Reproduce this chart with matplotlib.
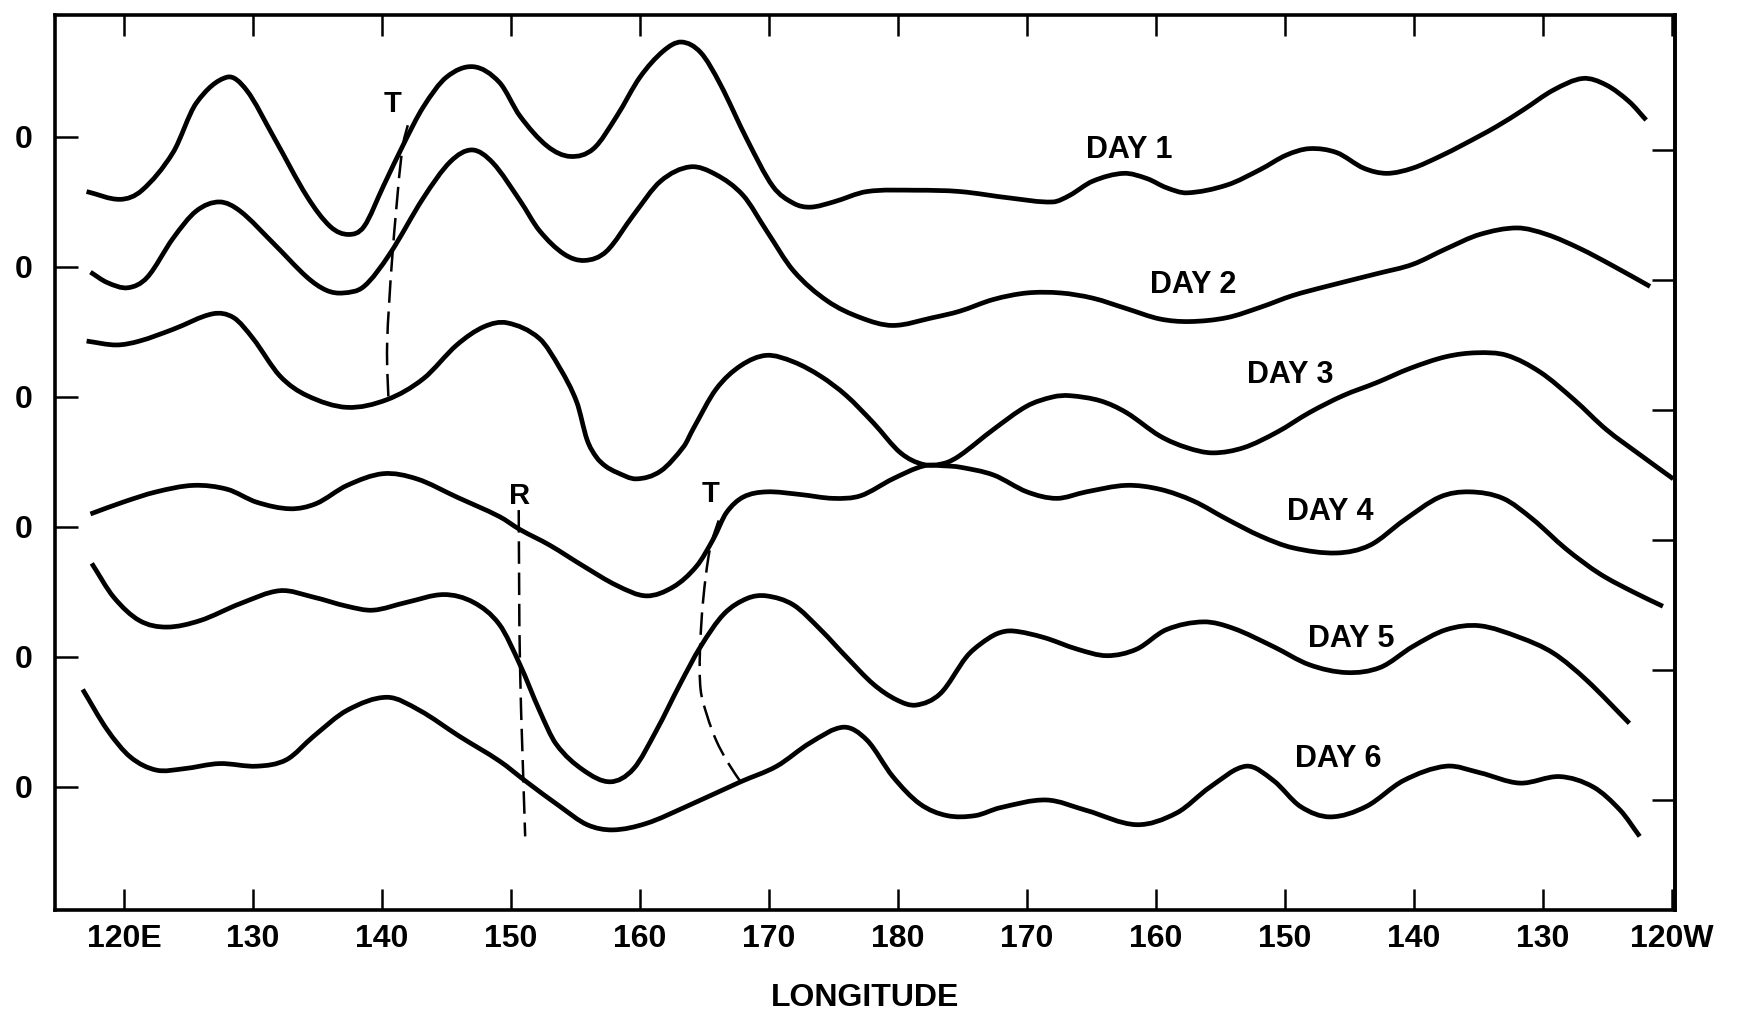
import numpy as np
import matplotlib
matplotlib.use("Agg")
import matplotlib.pyplot as plt
from matplotlib.path import Path
from matplotlib.patches import PathPatch

plt.rcParams['font.family'] = ['Liberation Sans', 'DejaVu Sans']
plt.rcParams['font.weight'] = 'bold'
plt.rcParams['axes.labelweight'] = 'bold'

# Longitude runs continuously: 120E = 120, 180 = 180, 120W = 240.
# Each day's trace is the departure from its own zero line.
day1_lon = [117.1, 119.7, 121.4, 123.8, 125.6, 128.0, 129.5, 131.6, 134.2, 136.0,
            137.4, 138.6, 140.1, 141.7, 143.2, 145.0, 147.1, 149.1, 150.7, 152.8,
            154.6, 156.4, 158.2, 160.0, 161.8, 163.2, 164.7, 166.2, 168.3, 170.3,
            171.9, 173.2, 175.0, 177.6, 181.4, 184.8, 188.7, 192.0, 193.3, 195.1,
            197.5, 199.3, 200.8, 202.4, 205.5, 208.1, 210.1, 211.9, 214.0, 216.1,
            217.9, 219.9, 222.0, 223.8, 226.4, 228.5, 230.8, 233.1, 234.9, 236.7,
            238.0]
day1_dev = [-42, -48, -41, -12, 26, 46, 36, 0, -46, -69,
            -75, -69, -38, -5, 23, 46, 54, 42, 16, -7,
            -15, -9, 16, 46, 66, 73, 65, 41, -2, -38,
            -51, -54, -50, -42, -41, -42, -47, -50, -45, -34,
            -28, -32, -39, -43, -37, -25, -14, -9, -12, -24,
            -28, -24, -15, -6, 8, 21, 36, 45, 40, 27,
            13]

day2_lon = [117.4, 118.7, 120.3, 121.8, 123.8, 125.6, 127.4, 129.0, 131.6, 134.2,
            135.7, 137.0, 138.6, 140.6, 143.2, 145.3, 147.0, 148.6, 150.7, 152.2,
            154.1, 155.7, 157.4, 159.5, 161.6, 163.9, 165.9, 168.0, 169.8, 171.9,
            174.5, 177.1, 179.6, 182.7, 184.8, 187.4, 190.0, 192.6, 195.1, 197.7,
            200.3, 202.6, 205.5, 208.1, 210.6, 213.2, 217.2, 219.9, 222.5, 225.1,
            228.0, 230.3, 232.9, 235.4, 238.3]
day2_dev = [-4, -12, -16, -8, 22, 43, 50, 43, 18, -8,
            -18, -20, -15, 10, 53, 81, 90, 80, 51, 28,
            10, 5, 12, 40, 66, 77, 71, 55, 28, -3,
            -26, -39, -45, -39, -34, -25, -20, -20, -24, -32,
            -40, -42, -39, -31, -22, -15, -5, 2, 14, 25,
            30, 25, 14, 1, -15]

day3_lon = [117.1, 119.4, 121.2, 123.8, 126.9, 128.5, 130.0, 132.1, 134.2, 137.3,
            140.4, 143.2, 145.8, 147.9, 149.7, 152.2, 153.8, 155.1, 155.9, 156.6,
            157.3, 158.2, 159.7, 161.6, 163.4, 164.1, 165.9, 167.8, 169.8, 171.9,
            174.0, 176.0, 178.1, 180.2, 182.0, 183.6, 184.8, 187.4, 190.0, 192.0,
            193.3, 195.7, 197.7, 200.3, 202.4, 204.4, 206.8, 209.4, 211.9, 214.5,
            217.1, 219.7, 222.5, 224.9, 227.2, 229.8, 232.4, 234.9, 237.6, 240.1]
day3_dev = [43, 40, 43, 52, 64, 61, 45, 16, 1, -8,
            -2, 14, 40, 54, 57, 45, 22, -4, -33, -46,
            -53, -58, -63, -57, -38, -25, 6, 24, 32, 27,
            16, 1, -20, -43, -52, -51, -45, -25, -7, 0,
            1, -3, -12, -30, -39, -43, -39, -27, -12, 1,
            11, 22, 31, 34, 32, 19, -2, -25, -45, -63]

day4_lon = [117.4, 119.9, 122.5, 125.4, 128.0, 130.3, 132.9, 134.9, 137.3, 140.1,
            142.7, 145.8, 149.1, 150.7, 153.0, 155.6, 158.2, 160.5, 162.6, 164.4,
            165.7, 166.7, 168.0, 169.8, 172.4, 175.0, 177.1, 179.6, 182.0, 183.6,
            184.8, 187.4, 190.0, 192.3, 194.6, 197.7, 200.3, 202.9, 205.5, 208.1,
            210.6, 214.0, 216.6, 219.2, 222.0, 224.3, 226.9, 229.2, 231.8, 234.4,
            237.0, 239.3]
day4_dev = [10, 19, 27, 32, 29, 19, 14, 18, 32, 41,
            37, 23, 8, -2, -14, -30, -45, -53, -46, -30,
            -9, 11, 23, 27, 25, 22, 24, 37, 47, 47,
            46, 40, 27, 22, 27, 32, 29, 20, 6, -7,
            -16, -20, -14, 5, 23, 27, 22, 6, -17, -36,
            -50, -61]

day5_lon = [117.5, 119.2, 121.2, 123.3, 125.9, 129.0, 132.1, 134.7, 137.3, 139.3,
            141.9, 144.8, 147.1, 149.1, 150.7, 152.2, 153.5, 155.6, 157.7, 159.5,
            161.3, 163.1, 164.7, 166.5, 168.3, 169.8, 171.9, 174.0, 176.0, 178.1,
            179.9, 181.4, 183.3, 185.3, 186.4, 187.7, 188.9, 191.3, 193.9, 196.2,
            198.5, 200.8, 203.7, 206.0, 209.1, 211.9, 214.8, 217.4, 219.9, 222.5,
            225.1, 228.2, 230.8, 233.4, 236.7]
day5_dev = [72, 46, 28, 23, 28, 41, 51, 46, 39, 36,
            42, 48, 42, 25, -6, -41, -67, -87, -96, -86,
            -56, -21, 8, 33, 45, 47, 40, 21, 0, -21,
            -33, -37, -28, 0, 10, 18, 20, 15, 6, 1,
            6, 21, 27, 22, 8, -6, -12, -8, 8, 21,
            24, 15, 3, -18, -51]

day6_lon = [116.8, 118.7, 120.5, 122.5, 124.6, 127.4, 130.3, 132.6, 134.7, 137.3,
            140.4, 142.9, 146.0, 149.1, 151.2, 153.8, 155.9, 157.9, 160.5, 163.6,
            167.8, 170.6, 173.2, 175.8, 177.6, 179.6, 181.7, 183.8, 186.0, 187.9,
            191.5, 194.6, 198.5, 201.6, 204.2, 207.0, 209.1, 211.2, 213.5, 216.3,
            219.2, 222.5, 225.1, 228.2, 231.3, 233.9, 236.0, 237.5]
day6_dev = [75, 44, 23, 13, 14, 18, 16, 21, 39, 59,
            69, 59, 39, 20, 4, -15, -29, -33, -28, -15,
            4, 16, 34, 46, 36, 8, -13, -22, -22, -16,
            -10, -18, -29, -20, 0, 16, 5, -15, -23, -15,
            5, 16, 11, 3, 8, 0, -18, -38]

# Trough (T) and ridge (R) tracks, in plot units
t1_lon = [142.0, 141.5, 140.8, 140.4, 140.5]
t1_y = [509, 485, 408, 341, 299]
r_lon = [150.6, 150.7, 151.1]
r_y = [213, 93, -38]
t2_lon = [166.1, 165.4, 164.9, 164.65, 164.7, 165.2, 165.9, 166.8, 167.8]
t2_y = [205, 182, 144, 105, 75, 55, 36, 19, 4]

tick_lons = [120, 130, 140, 150, 160, 170, 180, 190, 200, 210, 220, 230, 240]
tick_labels = ['120E', '130', '140', '150', '160', '170', '180',
               '170', '160', '150', '140', '130', '120W']

days = ['DAY 1', 'DAY 2', 'DAY 3', 'DAY 4', 'DAY 5', 'DAY 6']
lons = [day1_lon, day2_lon, day3_lon, day4_lon, day5_lon, day6_lon]
devs = [day1_dev, day2_dev, day3_dev, day4_dev, day5_dev, day6_dev]
spacing = 100
baselines = [spacing * (len(days) - 1 - i) for i in range(len(days))]

# label anchors (lon, baseline of text)
day_label_pos = [(197.9, 484), (202.9, 380), (210.4, 311), (213.5, 205),
                 (215.1, 108), (214.1, 15)]


def hermite_path(x, y):
    """Smooth y(x) path through every vertex, cubic Hermite segments."""
    x = np.asarray(x, float)
    y = np.asarray(y, float)
    n = len(x)
    m = np.empty(n)
    m[1:-1] = (y[2:] - y[:-2]) / (x[2:] - x[:-2])
    m[0] = (y[1] - y[0]) / (x[1] - x[0])
    m[-1] = (y[-1] - y[-2]) / (x[-1] - x[-2])
    verts = [(x[0], y[0])]
    codes = [Path.MOVETO]
    for i in range(n - 1):
        h = (x[i + 1] - x[i]) / 3.0
        verts += [(x[i] + h, y[i] + m[i] * h),
                  (x[i + 1] - h, y[i + 1] - m[i + 1] * h),
                  (x[i + 1], y[i + 1])]
        codes += [Path.CURVE4] * 3
    return Path(verts, codes)


def catmull_path(x, y):
    """Cubic Bezier path through every vertex, Catmull-Rom tangents."""
    p = np.column_stack([x, y]).astype(float)
    ext = np.vstack([p[0], p, p[-1]])
    verts = [p[0]]
    codes = [Path.MOVETO]
    for i in range(len(p) - 1):
        p0, p1, p2, p3 = ext[i], ext[i + 1], ext[i + 2], ext[i + 3]
        verts += [p1 + (p2 - p0) / 6.0, p2 - (p3 - p1) / 6.0, p2]
        codes += [Path.CURVE4] * 3
    return Path(verts, codes)


fig = plt.figure(figsize=(17.4, 10.13), dpi=100)
ax = fig.add_axes([0.0316, 0.1017, 0.931, 0.8835])

for lon, dev, base in zip(lons, devs, baselines):
    ax.add_patch(PathPatch(hermite_path(lon, np.asarray(dev) + base),
                           facecolor='none', edgecolor='black', lw=3.4,
                           capstyle='butt', joinstyle='round'))

for lx, ly in [(t1_lon, t1_y), (r_lon, r_y), (t2_lon, t2_y)]:
    ax.add_patch(PathPatch(catmull_path(lx, ly), facecolor='none',
                           edgecolor='black', lw=1.8,
                           linestyle=(0, (9, 3.5))))

ax.text(140.8, 519, 'T', fontsize=21, ha='center', va='baseline')
ax.text(150.7, 218, 'R', fontsize=21, ha='center', va='baseline')
ax.text(165.5, 219, 'T', fontsize=21, ha='center', va='baseline')

for name, (lx, ly) in zip(days, day_label_pos):
    ax.text(lx, ly, name, fontsize=22, ha='center', va='baseline')

ax.set_xlim(114.65, 240.23)
ax.set_ylim(-94.6, 593.8)

ax.set_xticks(tick_lons)
ax.set_xticklabels(tick_labels)
ax.set_yticks(baselines)
ax.set_yticklabels(['0'] * len(baselines))

ax.tick_params(axis='x', direction='in', length=15, width=1.8, top=True,
               bottom=True, labelsize=23, pad=10)
ax.tick_params(axis='y', direction='in', length=16.5, width=1.8, left=True,
               right=False, labelsize=23, pad=16)

sec = ax.secondary_yaxis('right', functions=(lambda v: v + 10, lambda v: v - 10))
sec.set_yticks(baselines)
sec.tick_params(direction='in', length=16.5, width=1.8, labelright=False)
sec.spines['right'].set_linewidth(2.6)

for s in ax.spines.values():
    s.set_linewidth(2.6)

ax.set_xlabel('LONGITUDE', fontsize=23, fontweight='bold', labelpad=21)

fig.savefig('out.png', dpi=100, facecolor='white')
